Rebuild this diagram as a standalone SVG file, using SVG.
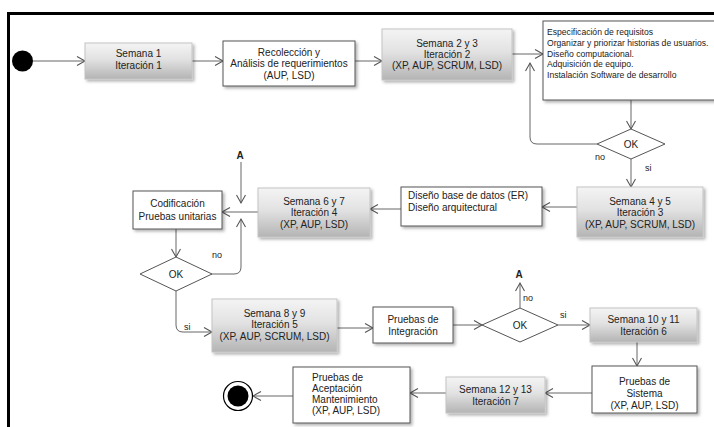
<svg xmlns="http://www.w3.org/2000/svg" width="714" height="427" viewBox="0 0 714 427">
  <defs>
    <linearGradient id="grayFill" x1="0" y1="0" x2="0" y2="1">
      <stop offset="0" stop-color="#f4f4f4"/>
      <stop offset="0.45" stop-color="#e2e2e2"/>
      <stop offset="1" stop-color="#b4b4b4"/>
    </linearGradient>
    <filter id="shadow" x="-10%" y="-10%" width="130%" height="140%">
      <feDropShadow dx="2" dy="2" stdDeviation="1.5" flood-color="#000" flood-opacity="0.3"/>
    </filter>
    <marker id="arrow" markerUnits="userSpaceOnUse" markerWidth="12" markerHeight="12" refX="9" refY="5" orient="auto">
      <path d="M1,0.5 L9,5 L1,9.5" fill="none" stroke="#555" stroke-width="1.1"/>
    </marker>
  </defs>
  <style>
    text { font-family: "Liberation Sans", Arial, sans-serif; fill: #222; }
    .t { font-size: 10px; text-anchor: middle; }
    .l { font-size: 10px; }
    .s { font-size: 8.6px; }
    .lbl { font-size: 9px; }
    .ref { font-size: 10px; font-weight: bold; text-anchor: middle; }
    .iter { fill: url(#grayFill); stroke: #c4c4c4; stroke-width: 1; filter: url(#shadow); }
    .act { fill: #fff; stroke: #555; stroke-width: 1; filter: url(#shadow); }
    .dec { fill: #fff; stroke: #555; stroke-width: 1; }
    .edge { fill: none; stroke: #666; stroke-width: 1; marker-end: url(#arrow); }
  </style>

  <rect width="714" height="427" fill="#fff"/>
  <!-- outer frame -->
  <rect x="8.5" y="13.5" width="720" height="430" fill="none" stroke="#000" stroke-width="3"/>

  <g id="connectors">
    <path class="edge" d="M33,61 H85"/>
    <path class="edge" d="M192,61 H223"/>
    <path class="edge" d="M355,61 H382"/>
    <path class="edge" d="M512,54 H543"/>
    <path class="edge" d="M631,100 V129"/>
    <path class="edge" d="M597,144 H537 Q530,144 530,137 V63"/>
    <path class="edge" d="M631,159 V187"/>
    <path class="edge" d="M577,207 H542"/>
    <path class="edge" d="M401,209 H370"/>
    <path class="edge" d="M258,212 H222"/>
    <path class="edge" d="M241,162 V203"/>
    <path class="edge" d="M176,229 V257"/>
    <path class="edge" d="M211,274 H234 Q241,274 241,267 V219"/>
    <path class="edge" d="M176,291 V325 Q176,332 183,332 H212"/>
    <path class="edge" d="M337,328 H373"/>
    <path class="edge" d="M453,325 H482"/>
    <path class="edge" d="M520,308 V283"/>
    <path class="edge" d="M558,325 H590"/>
    <path class="edge" d="M637,342 V366"/>
    <path class="edge" d="M592,393 H545"/>
    <path class="edge" d="M446,393 H410"/>
    <path class="edge" d="M293,396 H253"/>
    <text class="lbl" x="595" y="160">no</text>
    <text class="lbl" x="645" y="171">si</text>
    <text class="lbl" x="212" y="258">no</text>
    <text class="lbl" x="184" y="330">si</text>
    <text class="lbl" x="523" y="301">no</text>
    <text class="lbl" x="560" y="318">si</text>
    <text class="ref" x="240" y="159">A</text>
    <text class="ref" x="519" y="278">A</text>
  </g>

  <g id="start">
    <circle cx="22.5" cy="61" r="10.5" fill="#000"/>
  </g>

  <g id="semana1">
    <rect class="iter" x="85" y="43" width="107" height="36"/>
    <text class="t" x="138.5" y="57">Semana 1</text>
    <text class="t" x="138.5" y="69">Iteración 1</text>
  </g>

  <g id="recoleccion">
    <rect class="act" x="223" y="41" width="132" height="45"/>
    <text class="t" x="289" y="55.5">Recolección y</text>
    <text class="t" x="289" y="67">Análisis de requerimientos</text>
    <text class="t" x="289" y="78.5">(AUP, LSD)</text>
  </g>

  <g id="semana2">
    <rect class="iter" x="382" y="29" width="130" height="51"/>
    <text class="t" x="447" y="46.5">Semana 2 y 3</text>
    <text class="t" x="447" y="57.5">Iteración 2</text>
    <text class="t" x="447" y="69">(XP, AUP, SCRUM, LSD)</text>
  </g>

  <g id="especificacion">
    <rect class="act" x="543" y="21" width="180" height="79"/>
    <text class="s" x="547" y="35">Especificación de requisitos</text>
    <text class="s" x="547" y="46">Organizar y priorizar historias de usuarios.</text>
    <text class="s" x="547" y="56.5">Diseño computacional.</text>
    <text class="s" x="547" y="67">Adquisición de equipo.</text>
    <text class="s" x="547" y="77.5">Instalación Software de desarrollo</text>
  </g>

  <g id="ok1">
    <polygon class="dec" points="631,129 665,144 631,159 597,144"/>
    <text class="t" x="631" y="148">OK</text>
  </g>

  <g id="semana4">
    <rect class="iter" x="577" y="187" width="126" height="50"/>
    <text class="t" x="640" y="204.5">Semana 4 y 5</text>
    <text class="t" x="640" y="216">Iteración 3</text>
    <text class="t" x="640" y="227.5">(XP, AUP, SCRUM, LSD)</text>
  </g>

  <g id="diseno">
    <rect class="act" x="401" y="187" width="141" height="39"/>
    <text class="l" x="408" y="198.5">Diseño base de datos (ER)</text>
    <text class="l" x="408" y="210.5">Diseño arquitectural</text>
  </g>

  <g id="semana6">
    <rect class="iter" x="258" y="188" width="112" height="49"/>
    <text class="t" x="314" y="204.5">Semana 6 y 7</text>
    <text class="t" x="314" y="216">Iteración 4</text>
    <text class="t" x="314" y="227.5">(XP, AUP, LSD)</text>
  </g>

  <g id="codificacion">
    <rect class="act" x="133" y="191" width="89" height="38"/>
    <text class="t" x="177.5" y="206.5">Codificación</text>
    <text class="t" x="177.5" y="219.5">Pruebas unitarias</text>
  </g>

  <g id="ok2">
    <polygon class="dec" points="176,257 212,274 176,291 140,274"/>
    <text class="t" x="176" y="278">OK</text>
  </g>

  <g id="semana8">
    <rect class="iter" x="212" y="299" width="125" height="53"/>
    <text class="t" x="274.5" y="316.5">Semana 8 y 9</text>
    <text class="t" x="274.5" y="328">Iteración 5</text>
    <text class="t" x="274.5" y="339.5">(XP, AUP, SCRUM, LSD)</text>
  </g>

  <g id="integracion">
    <rect class="act" x="373" y="307" width="80" height="36"/>
    <text class="t" x="413" y="322.5">Pruebas de</text>
    <text class="t" x="413" y="334.5">Integración</text>
  </g>

  <g id="ok3">
    <polygon class="dec" points="520,308 558,325 520,342 482,325"/>
    <text class="t" x="520" y="329">OK</text>
  </g>

  <g id="semana10">
    <rect class="iter" x="590" y="308" width="107" height="34"/>
    <text class="t" x="643.5" y="322.5">Semana 10 y 11</text>
    <text class="t" x="643.5" y="334.5">Iteración 6</text>
  </g>

  <g id="sistema">
    <rect class="act" x="592" y="366" width="105" height="47"/>
    <text class="t" x="644.5" y="384.5">Pruebas de</text>
    <text class="t" x="644.5" y="396.5">Sistema</text>
    <text class="t" x="644.5" y="408.5">(XP, AUP, LSD)</text>
  </g>

  <g id="semana12">
    <rect class="iter" x="446" y="377" width="99" height="36"/>
    <text class="t" x="495.5" y="392.5">Semana 12 y 13</text>
    <text class="t" x="495.5" y="404.5">Iteración 7</text>
  </g>

  <g id="aceptacion">
    <rect class="act" x="293" y="367" width="117" height="56"/>
    <text class="l" x="312" y="380.5">Pruebas de</text>
    <text class="l" x="312" y="391.5">Aceptación</text>
    <text class="l" x="312" y="402.5">Mantenimiento</text>
    <text class="l" x="312" y="413.5">(XP, AUP, LSD)</text>
  </g>

  <g id="end">
    <circle cx="238" cy="396" r="14.5" fill="#fff" stroke="#000" stroke-width="1.2"/>
    <circle cx="238" cy="396" r="10.5" fill="#000"/>
  </g>
</svg>
